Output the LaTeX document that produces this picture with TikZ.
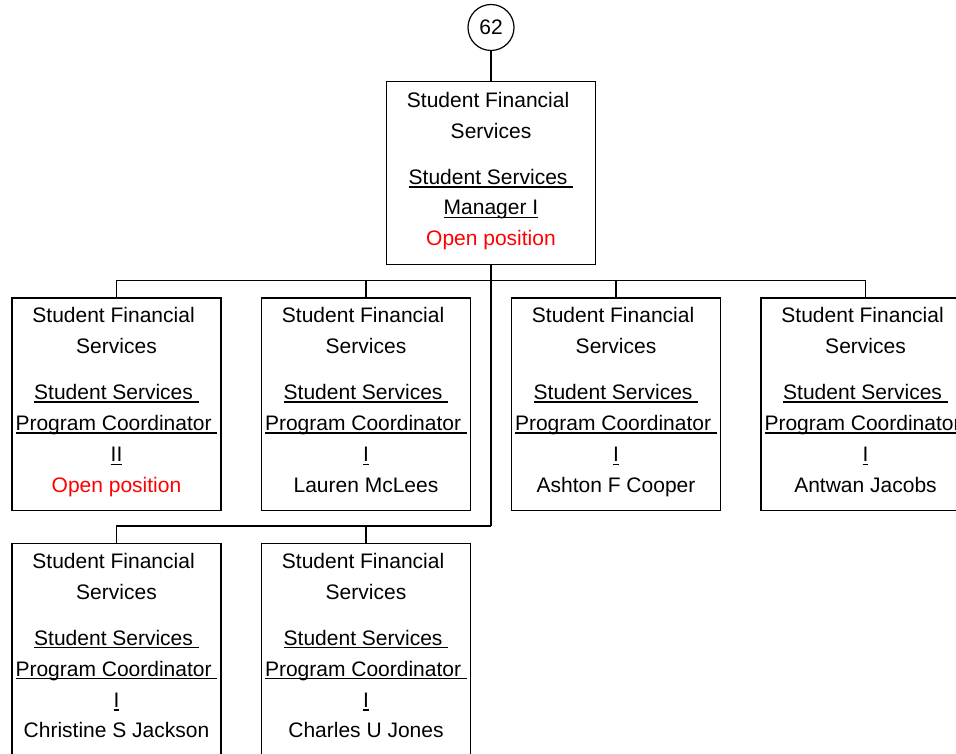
\documentclass[tikz,border=0pt]{standalone}
\usepackage{fontspec}
\setmainfont{Liberation Sans}
\newcommand\myul[1]{\setbox0=\hbox{#1}\rlap{\rule[-3.3pt]{\wd0}{1.5pt}}\box0}
\tikzset{
  unitbox/.style={draw, line width=1.5pt, minimum width=209pt, inner sep=0pt, anchor=north},
  ln/.style={anchor=base, inner sep=0pt, font=\fontsize{21pt}{25pt}\selectfont},
  link/.style={line width=1.5pt},
  badge/.style={draw, circle, line width=1.2pt, minimum size=46pt, inner sep=0pt, font=\fontsize{21pt}{25pt}\selectfont}
}
\newcommand\orgunit[5]{%
  \node[unitbox, minimum height=212.5pt] (#1) at (#2,#3) {};
  \node[ln] (#1-1) at (#2,#3+25.8) {\hbox{Student Financial\ }};
  \node[ln] (#1-2) at (#2,#3+56.5) {Services};
  \node[ln] (#1-3) at (#2,#3+102.5) {\myul{Student Services\ }};
  \node[ln] (#1-4) at (#2,#3+133.5) {\myul{Program Coordinator\ }};
  \node[ln] (#1-5) at (#2,#3+164.7) {\myul{#4}};
  \node[ln] (#1-6) at (#2,#3+195) {#5};
}
\begin{document}
\begin{tikzpicture}[x=1pt, y=-1pt]
\useasboundingbox (0,0) rectangle (956,754);
% badge
\node[badge] (c62) at (491,27.5) {62};
% top unit
\node[unitbox, minimum height=183pt] (top) at (491,81) {};
\node[ln] (top-1) at (491,81+26.5) {\hbox{Student Financial\ }};
\node[ln] (top-2) at (491,81+57.5) {Services};
\node[ln] (top-3) at (491,81+103.5) {\myul{Student Services\ }};
\node[ln] (top-4) at (491,81+134) {\myul{Manager I}};
\node[ln] (top-5) at (491,81+165) {\textcolor{red}{Open position}};
% row 1
\orgunit{r1}{116.5}{297}{II}{\textcolor{red}{Open position}}
\orgunit{r2}{366}{297}{I}{Lauren McLees}
\orgunit{r3}{616}{297}{I}{Ashton F Cooper}
\orgunit{r4}{865.5}{297}{I}{Antwan Jacobs}
% row 2
\orgunit{s1}{116.5}{542.5}{I}{Christine S Jackson}
\orgunit{s2}{366}{542.5}{I}{Charles U Jones}
% connectors
\coordinate (b1) at (491,280.5);
\coordinate (b2) at (491,526);
\draw[link] (c62) -- (top);
\draw[link] (top.south) -- (b2);
\draw[link] (r1.north) |- (b1);
\draw[link] (r4.north) |- (b1);
\draw[link] (r2.north) -- (r2.north |- b1);
\draw[link] (r3.north) -- (r3.north |- b1);
\draw[link] (s1.north) |- (b2);
\draw[link] (s2.north) -- (s2.north |- b2);
\end{tikzpicture}
\end{document}
